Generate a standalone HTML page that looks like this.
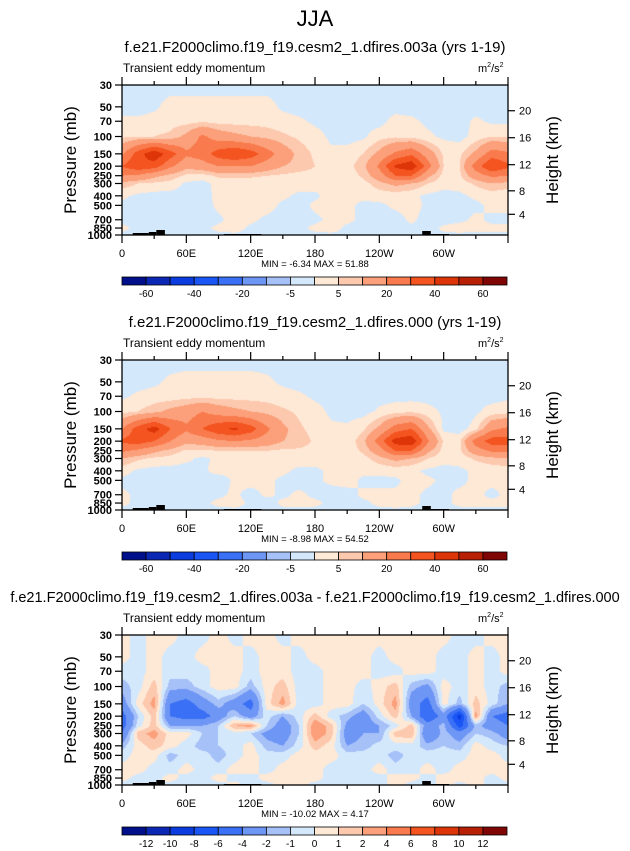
<!DOCTYPE html>
<html><head><meta charset="utf-8"><style>
body{margin:0;background:#fff;width:630px;height:851px;overflow:hidden;position:relative;font-family:"Liberation Sans",sans-serif}
canvas{position:absolute}
svg{position:absolute;left:0;top:0}
</style></head><body>
<canvas id="c1" width="386" height="150" style="left:122px;top:85px"></canvas>
<canvas id="c2" width="386" height="150" style="left:122px;top:360px"></canvas>
<canvas id="c3" width="386" height="150" style="left:122px;top:635px"></canvas>
<svg id="ov" width="630" height="851" font-family="Liberation Sans, sans-serif"></svg>
<script>
const pLevels=[30,50,70,100,150,200,250,300,400,500,700,850,1000];
const lons=[0,15,30,45,60,75,90,105,120,135,150,165,180,195,210,225,240,255,270,285,300,315,330,345,360];
const xTickLabels=["0","60E","120E","180","120W","60W"];
const pTickLabels=[30,50,70,100,150,200,250,300,400,500,700,850,1000];
const hTickLabels=[4,8,12,16,20];
const levelsMain=[-60,-50,-40,-30,-20,-10,-5,0,5,10,20,30,40,50,60];
const levelsDiff=[-12,-10,-8,-6,-4,-2,-1,0,1,2,4,6,8,10,12];
const cbLabelsMain=["-60","-40","-20","-5","5","20","40","60"];
const cbLabelsDiff=["-12","-10","-8","-6","-4","-2","-1","0","1","2","4","6","8","10","12"];
const colors=["#00108a","#0a28b4","#0a3ce0","#1a55f5","#3a70f5","#6e96f5","#a6c0f8","#d4e8fc","#fee8d6","#fcc8ae","#fba07a","#f97a4c","#f45420","#dd3508","#b82005","#800505"];
const minMax1="MIN = -6.34  MAX = 51.88", minMax2="MIN = -8.98  MAX = 54.52", minMax3="MIN = -10.02  MAX = 4.17";
const field1=[
[-2,-2,-2,-2,-2,-2,-2,-2,-2,-2,-2,-2,-2,-2,-2,-2,-2,-2,-2,-2,-2,-2,-2,-2,-2],
[-2,-2,-1,2,2,2,2,2,2,2,-1,-2,-2,-2,-2,-2,-2,-2,-2,-2,-2,-2,-2,-2,-2],
[1,1,2,3,3,4,3,3,3,3,2,1,-1,-2,-2,-2,-2,2,1,-1,-2,-2,1,-1,-1],
[4,5,5,6,12,22,15,12,10,8,6,4,2,-1,-2,-1,3,4,3,1,-1,-2,2,5,4],
[18,35,48,35,22,25,35,40,35,25,15,8,4,1,2,5,12,22,28,15,4,4,12,25,22],
[30,38,35,22,12,15,20,20,20,15,10,8,5,2,3,8,22,42,48,25,5,5,25,40,32],
[20,18,12,8,4,3,6,6,6,5,4,3,3,2,2,6,15,30,30,12,3,4,15,22,20],
[8,5,4,3,-1,-2,2,2,2,2,2,2,2,1,1,3,8,12,10,5,2,2,6,10,8],
[1,-1,-2,-2,-2,-3,2,1,1,2,1,-1,-1,2,1,1,2,2,1,-1,-2,-1,1,2,1],
[-1,-2,-2,-2,-3,-2,1,2,1,2,-1,-2,1,2,1,-1,-1,1,2,-1,-2,-2,-1,1,1],
[-1,-2,-2,-3,-2,-2,-1,2,1,-1,-2,-2,-1,1,1,-1,-1,-2,1,-2,-2,-1,1,-1,-1],
[1,-1,-2,-2,-1,-1,1,2,-1,-2,-2,-1,1,2,-1,-1,-2,-2,-1,-2,1,2,1,1,1],
[-1,-1,-1,-1,-1,-1,-1,-1,-1,-1,-1,-1,-1,-1,-1,-1,-1,-1,-1,-1,-1,-1,-1,-1,-1]];
const field2=[
[-2,-2,-2,-2,-2,-2,-2,-2,-2,-2,-2,-2,-2,-2,-2,-2,-2,-2,-2,-2,-2,-2,-2,-2,-2],
[-2,-2,-1,1,2,2,2,2,2,1,-1,-2,-2,-2,-2,-2,-2,-2,-2,-2,-2,-2,-2,-2,-2],
[-1,1,2,2,3,3,3,3,3,3,2,1,-1,-2,-2,-2,-2,-2,-2,-2,-2,-1,-1,-2,-1],
[3,5,8,12,15,20,15,12,10,8,6,4,2,-1,-2,-2,1,3,4,2,-1,-5,-1,2,3],
[20,35,45,30,22,30,38,42,35,22,12,6,3,1,1,4,12,25,30,12,-1,-3,3,18,22],
[32,35,30,20,12,14,18,20,18,15,10,8,4,2,2,8,25,45,48,22,4,4,25,35,35],
[22,18,12,8,4,4,5,5,5,5,4,4,3,2,2,6,15,30,30,12,3,4,15,22,22],
[10,6,4,3,1,-1,1,2,2,2,2,2,2,2,2,3,8,12,10,5,2,2,6,8,10],
[2,-1,-2,-2,-2,-1,2,1,1,2,1,-1,-1,1,2,1,1,2,1,-1,-2,-1,1,2,2],
[-1,-2,-2,-2,-2,-1,-3,1,2,1,-1,-2,-1,1,2,-1,-1,-1,2,1,-1,-1,1,1,1],
[1,-1,-2,-2,-2,-1,-1,1,-2,1,-1,1,-1,-2,-2,1,1,1,1,-1,-1,1,1,-1,1],
[1,-1,-2,-1,-1,-1,1,2,-1,-2,1,1,1,-1,-1,-1,1,2,1,-1,-1,1,1,1,1],
[-1,-1,-1,-1,-1,-1,-1,-1,-1,-1,-1,-1,-1,-1,-1,-1,-1,-1,-1,-1,-1,-1,-1,-1,-1]];
const field3=[
[0.5,-0.5,0.5,0.5,-0.5,-0.5,0.5,-0.5,0.5,0.5,-0.5,0.5,0.5,0.5,0.5,0.5,0.5,0.5,0.5,0.5,0.5,-0.5,-0.5,0.5,0.5],
[0.5,-0.5,0.5,-0.5,-0.5,0.5,0.5,0.5,-0.5,0.5,0.5,-0.5,0.5,0.5,0.5,0.5,-0.5,0.5,0.5,0.5,-0.5,-0.5,0.5,-0.5,0.5],
[-0.5,-0.5,0.5,-0.5,-0.5,-0.5,0.5,0.5,-0.5,0.5,0.5,-0.5,-0.5,0.5,0.5,0.5,-0.5,-0.5,0.5,0.5,-0.5,-0.5,0.5,-0.5,0.5],
[-1.5,-0.5,1.5,-1.5,-1.5,-0.5,0.5,0.5,-1.5,0.5,1.5,-0.5,-0.5,0.5,0.5,-0.5,0.5,1.5,-1.5,-2.5,0.5,-0.5,0.5,-0.5,-1.5],
[-3,0.5,2.5,-4,-5,-3,-1.5,-3,-5,0.5,2.5,-0.5,-0.5,0.5,0.5,-1,0.5,2.5,-3,-5,0.5,-1.5,1.5,-0.5,-2],
[-5,-1,1.5,-4,-5,-5,-3,-1,-3,-0.5,-2,-0.5,1.5,-0.5,-1.5,-3,-0.5,1.5,-2,-6,-3,-9,2.5,-4,-5],
[-5,-0.5,1.5,-2,-2,-2,-1,2,2.5,-1,-3,-1,3,1.5,-2.5,-3,-2,-0.5,1.5,-3,-1.5,-7,-1.5,-3,-4],
[-4,1.5,2.5,0.5,0.5,-1,-1,-0.5,-1,-2.5,-3,-1,3,1.5,-3,-2,-2,1.5,2,-4,-1.5,-3,-1,-1.5,-3],
[-1.5,0.5,1.5,0.5,-0.5,-1.5,-1,-0.5,0.5,-1.5,-2,-0.5,1.5,0.5,-2,-1.5,-0.5,-0.5,-0.5,-1.5,-1,-1.5,0.5,-0.5,-1],
[-0.5,0.5,0.5,-1.5,-0.5,-0.5,-1.5,-0.5,0.5,-0.5,-0.5,0.5,0.5,0.5,-0.5,-0.5,-0.5,-1.5,-0.5,-0.5,-0.5,-0.5,0.5,0.5,-0.5],
[0.5,0.5,-0.5,-0.5,0.5,-0.5,-0.5,0.5,0.5,-0.5,0.5,0.5,0.5,-0.5,-0.5,-0.5,0.5,-0.5,-0.5,0.5,-0.5,0.5,0.5,0.5,0.5],
[0.5,-0.5,-0.5,0.5,-0.5,-0.5,0.5,-0.5,-0.5,0.5,0.5,0.5,0.5,-0.5,-0.5,-0.5,-0.5,0.5,0.5,-0.5,0.5,0.5,0.5,-0.5,0.5],
[-0.5,-0.5,0.5,-0.5,-0.5,-0.5,-0.5,0.5,-0.5,-0.5,0.5,0.5,-0.5,-0.5,-0.5,-0.5,-0.5,0.5,-0.5,-0.5,0.5,-0.5,0.5,-0.5,-0.5]];
const topoLons=[[10,25],[25,32],[32,40],[95,130],[280,288],[288,305]];
const topoH=[2,3,5,1,4,1];

const W=386,H=150,X0=122,LOGR=Math.log10(1000/30);
function yOfP(p,top){return top+H*Math.log10(p/30)/LOGR;}
function xOfLon(l){return X0+W*l/360;}
function pOfZ(z){z*=1000;return z<11000?1013.25*Math.pow(1-2.25577e-5*z,5.25588):226.32*Math.exp(-(z-11000)/6341.6);}
function hex(c){return [parseInt(c.substr(1,2),16),parseInt(c.substr(3,2),16),parseInt(c.substr(5,2),16)];}
function drawField(id,field,lev){
  const cv=document.getElementById(id),ctx=cv.getContext('2d'),img=ctx.createImageData(W,H);
  const lp=pLevels.map(p=>Math.log10(p));
  const rgb=colors.map(hex);
  for(let y=0;y<H;y++){
    const l=Math.log10(30)+(y+0.5)/H*LOGR;
    let k=0;while(k<lp.length-2&&l>lp[k+1])k++;
    const t=Math.min(1,Math.max(0,(l-lp[k])/(lp[k+1]-lp[k])));
    for(let x=0;x<W;x++){
      const lon=(x+0.5)/W*360, fi=lon/15, j=Math.min(lons.length-2,Math.floor(fi)), s=fi-j;
      const v=(1-t)*((1-s)*field[k][j]+s*field[k][j+1])+t*((1-s)*field[k+1][j]+s*field[k+1][j+1]);
      let i=0;while(i<lev.length&&v>=lev[i])i++;
      const c=rgb[i],o=(y*W+x)*4;img.data[o]=c[0];img.data[o+1]=c[1];img.data[o+2]=c[2];img.data[o+3]=255;
    }
  }
  ctx.putImageData(img,0,0);
}
drawField('c1',field1,levelsMain);drawField('c2',field2,levelsMain);drawField('c3',field3,levelsDiff);

const NS="http://www.w3.org/2000/svg",ov=document.getElementById('ov');
function mk(tag,attrs,txt,name,parent){const e=document.createElementNS(NS,tag);for(const k in attrs)e.setAttribute(k,attrs[k]);if(txt!==undefined)e.textContent=txt;


(parent||ov).appendChild(e);return e;}
mk('text',{x:315,y:26,'font-size':22,'text-anchor':'middle'},'JJA','main-title');
const titles=["f.e21.F2000climo.f19_f19.cesm2_1.dfires.003a (yrs 1-19)","f.e21.F2000climo.f19_f19.cesm2_1.dfires.000 (yrs 1-19)","f.e21.F2000climo.f19_f19.cesm2_1.dfires.003a - f.e21.F2000climo.f19_f19.cesm2_1.dfires.000"];
const tops=[85,360,635],mm=[minMax1,minMax2,minMax3];
for(let n=0;n<3;n++){
  const T=tops[n],g=mk('g',{},undefined,'panel-'+(n+1));
  mk('text',{x:315,y:T-33,'font-size':n==2?14.5:15,'text-anchor':'middle'},titles[n],'panel-title',g);
  mk('text',{x:123,y:T-13,'font-size':12},'Transient eddy momentum','variable-label',g);
  const u=mk('text',{x:478,y:T-13,'font-size':11},'m','units-label',g);
  mk('tspan',{dy:-5,'font-size':7},'2','units-sup',u);mk('tspan',{dy:5,'font-size':11},'/s','units-s',u);mk('tspan',{dy:-5,'font-size':7},'2','units-sup',u);
  topoLons.forEach((r,i)=>mk('rect',{x:xOfLon(r[0]),y:T+H-topoH[i],width:xOfLon(r[1])-xOfLon(r[0]),height:topoH[i],fill:'#000'},undefined,'topography',g));
  mk('rect',{x:X0,y:T,width:W,height:H,fill:'none',stroke:'#000','stroke-width':1.3},undefined,'plot-frame',g);
  for(let l=0;l<=360;l+=30){const x=xOfLon(l),len=l%60==0?8:4;
    mk('line',{x1:x,y1:T,x2:x,y2:T-len,stroke:'#000','stroke-width':1.2},undefined,'x-tick-top',g);
    mk('line',{x1:x,y1:T+H,x2:x,y2:T+H+len,stroke:'#000','stroke-width':1.2},undefined,'x-tick',g);}
  xTickLabels.forEach((s,i)=>mk('text',{x:xOfLon(i*60),y:T+H+22,'font-size':11,'text-anchor':'middle'},s,'x-tick-label',g));
  pTickLabels.forEach(p=>{const y=yOfP(p,T);mk('line',{x1:X0,y1:y,x2:X0-7,y2:y,stroke:'#000','stroke-width':1.2},undefined,'y-tick',g);
    mk('text',{x:X0-10,y:y+4,'font-size':11,'text-anchor':'end','font-weight':'bold'},String(p),'y-tick-label',g);});
  hTickLabels.forEach(z=>{const y=yOfP(pOfZ(z),T);mk('line',{x1:X0+W,y1:y,x2:X0+W+7,y2:y,stroke:'#000','stroke-width':1.2},undefined,'height-tick',g);
    mk('text',{x:X0+W+11,y:y+4,'font-size':11},String(z),'height-tick-label',g);});
  mk('text',{x:76,y:T+75,'font-size':17,'text-anchor':'middle',transform:`rotate(-90 76 ${T+75})`},'Pressure (mb)','y-axis-title',g);
  mk('text',{x:558,y:T+75,'font-size':17,'text-anchor':'middle',transform:`rotate(-90 558 ${T+75})`},'Height (km)','height-axis-title',g);
  mk('text',{x:315,y:T+H+32,'font-size':9.5,'text-anchor':'middle'},mm[n],'min-max-label',g);
  const cy=T+192,cw=385/16;
  colors.forEach((c,i)=>mk('rect',{x:X0+i*cw,y:cy,width:cw,height:8,fill:c,stroke:'#000','stroke-width':0.8},undefined,'colorbar-box',g));
  if(n<2){cbLabelsMain.forEach((s,i)=>mk('text',{x:X0+(1+2*i)*cw,y:cy+20,'font-size':10,'text-anchor':'middle'},s,'colorbar-label',g));}
  else{cbLabelsDiff.forEach((s,i)=>mk('text',{x:X0+(1+i)*cw,y:cy+20,'font-size':10,'text-anchor':'middle'},s,'colorbar-label',g));}
}
</script>
</body></html>
